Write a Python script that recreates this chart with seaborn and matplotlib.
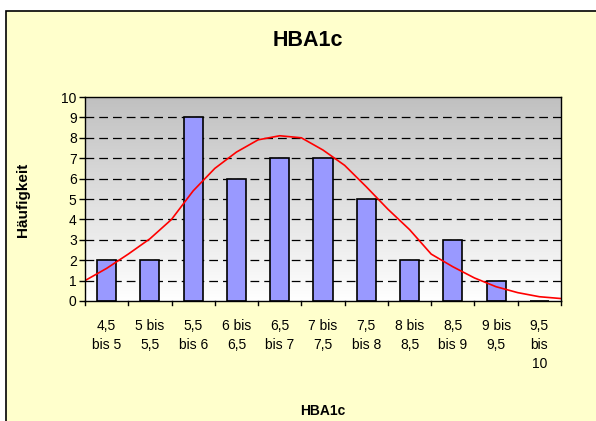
import numpy as np
import pandas as pd
import matplotlib
matplotlib.use("Agg")
import matplotlib.pyplot as plt
from matplotlib.patches import Rectangle
import seaborn as sns

categories = ["4,5\nbis 5", "5 bis\n5,5", "5,5\nbis 6", "6 bis\n6,5", "6,5\nbis 7",
              "7 bis\n7,5", "7,5\nbis 8", "8 bis\n8,5", "8,5\nbis 9", "9 bis\n9,5",
              "9,5\nbis\n10"]
counts = [2, 2, 9, 6, 7, 7, 5, 2, 3, 1, 0]

curve_hba = [4.5, 4.75, 5.0, 5.25, 5.5, 5.75, 6.0, 6.25, 6.5, 6.75, 7.0, 7.25,
             7.5, 7.75, 8.0, 8.25, 8.5, 8.75, 9.0, 9.25, 9.5, 9.75, 10.0]
curve_val = [1.0, 1.6, 2.3, 3.05, 4.0, 5.4, 6.5, 7.3, 7.9, 8.1, 8.0, 7.4,
             6.65, 5.6, 4.5, 3.5, 2.3, 1.68, 1.13, 0.7, 0.41, 0.21, 0.12]
yticks = list(range(0, 11))

W, H = 596, 421
plt.rcParams['font.family'] = ['Liberation Sans', 'DejaVu Sans']
fig = plt.figure(figsize=(W / 100, H / 100), dpi=100)
fig.patch.set_facecolor('white')
fig.patches.append(Rectangle((6 / W, -0.01), 1.0, 1 - 11 / H + 0.01, transform=fig.transFigure,
                             facecolor='#FFFFCC', edgecolor='black', linewidth=1.2, zorder=-10))

ax = fig.add_axes([85 / W, 1 - 301 / H, (561 - 85) / W, (301 - 97) / H])
ax.set_facecolor('none')

# gradient background
grad = np.linspace(0, 1, 256).reshape(-1, 1)
cmap = matplotlib.colors.LinearSegmentedColormap.from_list('g', ['#C0C0C0', '#FFFFFF'])
ax.imshow(grad, aspect='auto', cmap=cmap, extent=[0, 1, 0, 1], transform=ax.transAxes, zorder=0)

df = pd.DataFrame({'cat': categories, 'n': counts})
sns.barplot(data=df, x='cat', y='n', ax=ax, color='#9999FF', width=0.44,
            edgecolor='black', linewidth=1.2, saturation=1, zorder=3)

cdf = pd.DataFrame({'x': [(v - 4.75) / 0.5 for v in curve_hba], 'y': curve_val})
sns.lineplot(data=cdf, x='x', y='y', ax=ax, color='red', linewidth=1.2, zorder=4)

ax.set_xlim(-0.5, len(categories) - 0.5)
ax.set_ylim(0, 10)
ax.set_yticks(yticks)
ax.set_yticklabels([str(t) for t in yticks], fontsize=10)
for t in yticks[1:-1]:
    ax.axhline(t, color='black', linestyle=(0, (7, 4)), linewidth=0.9, zorder=1)

ax.set_xticks(np.arange(len(categories)))
ax.set_xticklabels(categories, fontsize=10, linespacing=1.45, va='top')
ax.tick_params(axis='x', length=0, pad=13)
ax.tick_params(axis='y', length=4, width=1, pad=2)
for b in np.arange(-0.5, len(categories) + 0.5, 1.0):
    ax.plot([b, b], [0, -0.22], color='black', linewidth=1, clip_on=False, zorder=5)

for s in ax.spines.values():
    s.set_color('black')
    s.set_linewidth(1)
    s.set_zorder(6)

ax.set_xlabel('')
ax.set_ylabel('')
fig.text(308 / W, 1 - 40 / H, 'HBA1c', fontsize=15.5, fontweight='bold', ha='center', va='center')
fig.text(323 / W, 1 - 411 / H, 'HBA1c', fontsize=10, fontweight='bold', ha='center', va='center')
fig.text(23 / W, 1 - 200 / H, 'Häufigkeit', fontsize=11, fontweight='bold', ha='center', va='center',
         rotation=90)

fig.savefig('out.png', dpi=100, facecolor=fig.get_facecolor())
